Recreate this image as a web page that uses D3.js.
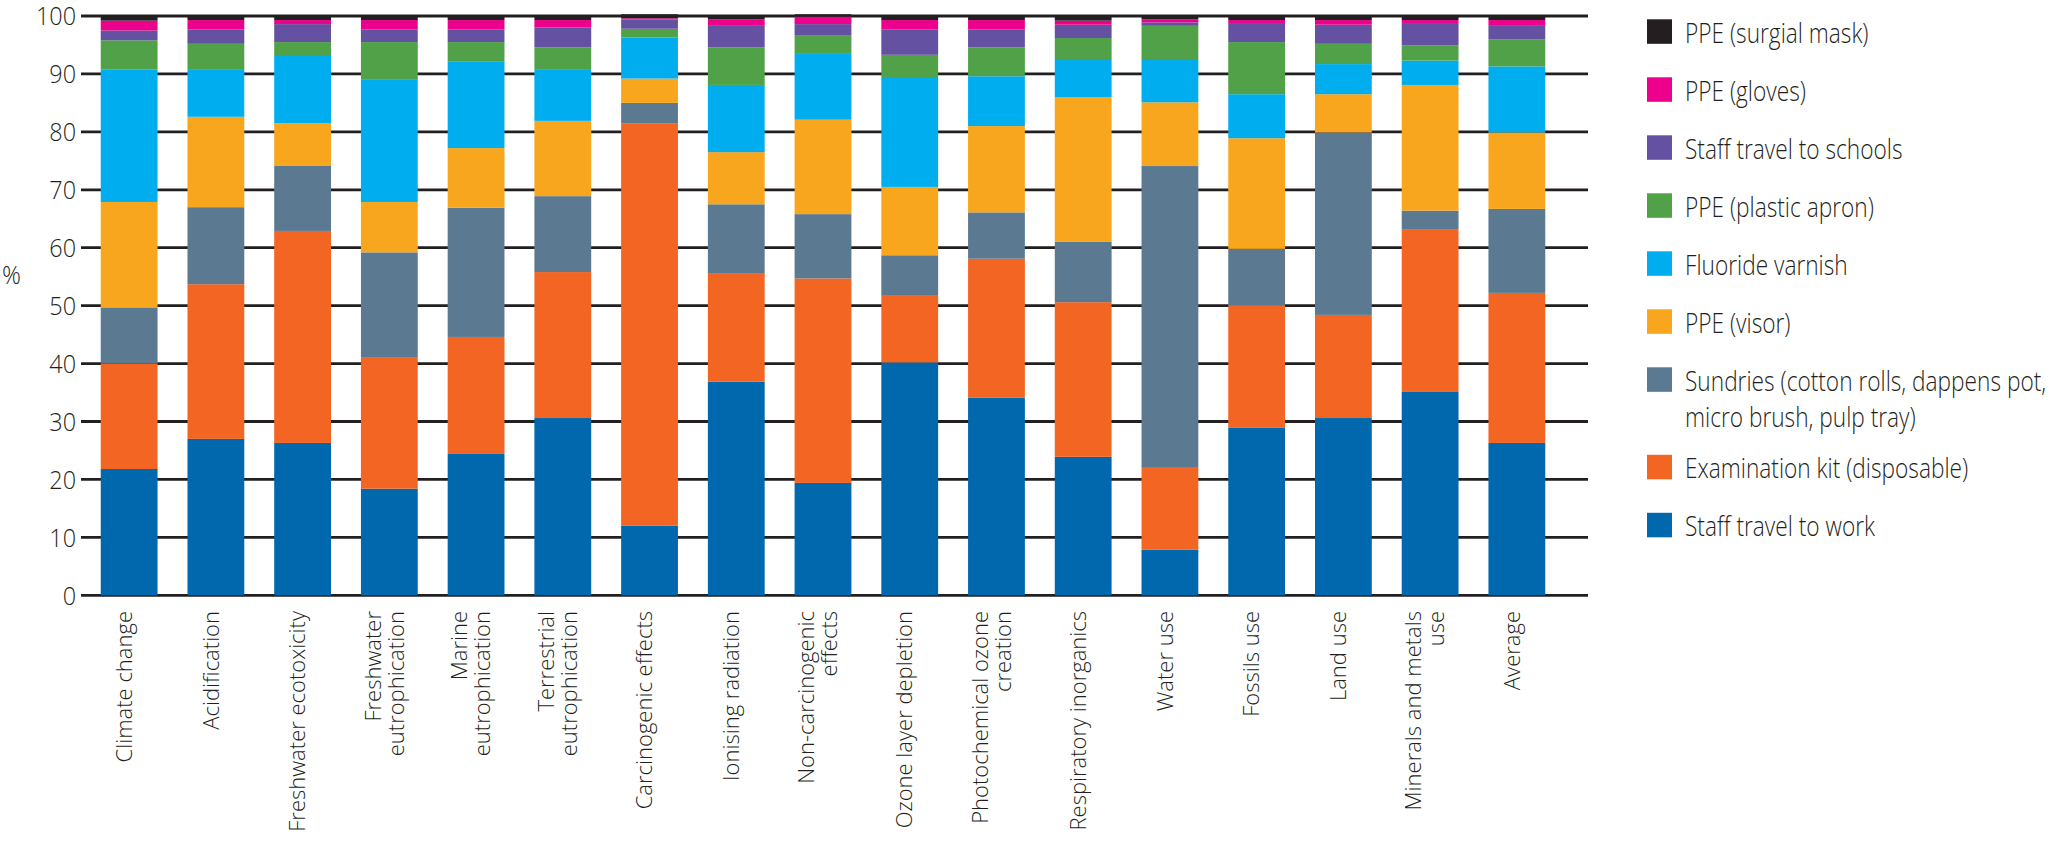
<!DOCTYPE html>
<html>
<head>
<meta charset="utf-8">
<script src="https://cdn.jsdelivr.net/npm/d3@7"></script>
<style>
  body { margin: 0; background: #fff; }
  .tick-label, .legend-label { font-family: "Open Sans", sans-serif; font-weight: 300; fill: #231f20; }
  .cat-label { font-family: "Open Sans", sans-serif; font-weight: 300; fill: #231f20; font-size: 22px; }
</style>
</head>
<body>
<svg id="chart" width="2061" height="848"></svg>
<script>
// categories (line breaks as in the figure)
let categories = [
  "Climate change", "Acidification", "Freshwater ecotoxicity", "Freshwater\neutrophication",
  "Marine\neutrophication", "Terrestrial\neutrophication", "Carcinogenic effects", "Ionising radiation",
  "Non-carcinogenic\neffects", "Ozone layer depletion", "Photochemical ozone\ncreation",
  "Respiratory inorganics", "Water use", "Fossils use", "Land use", "Minerals and metals\nuse", "Average"
];

// series values (%), bottom to top
let staffWork    = [21.8, 27.0, 26.3, 18.4, 24.4, 30.6, 12.0, 36.9, 19.4, 40.2, 34.1, 23.9,  7.9, 28.9, 30.6, 35.1, 26.3];
let examKit      = [18.2, 26.7, 36.6, 22.6, 20.2, 25.2, 69.5, 18.6, 35.3, 11.5, 24.0, 26.7, 14.1, 21.2, 17.8, 28.0, 25.9];
let sundries     = [ 9.7, 13.3, 11.3, 18.2, 22.3, 13.1,  3.5, 12.0, 11.1,  7.0,  8.0, 10.4, 52.1,  9.7, 31.5,  3.3, 14.5];
let visor        = [18.2, 15.6,  7.3,  8.7, 10.3, 13.0,  4.2,  9.0, 16.3, 11.8, 14.9, 25.0, 11.0, 19.1,  6.6, 21.7, 13.2];
let fluoride     = [22.9,  8.1, 11.6, 21.2, 15.0,  8.8,  7.1, 11.6, 11.5, 18.8,  8.6,  6.4,  7.3,  7.6,  5.2,  4.2, 11.4];
let apron        = [ 5.0,  4.5,  2.4,  6.4,  3.3,  3.9,  1.5,  6.5,  3.0,  4.0,  5.0,  3.8,  5.9,  9.0,  3.5,  2.6,  4.7];
let staffSchools = [ 1.7,  2.5,  3.1,  2.2,  2.2,  3.4,  1.6,  3.7,  2.0,  4.4,  3.1,  2.3,  0.6,  3.3,  3.3,  3.9,  2.3];
let gloves       = [ 1.7,  1.6,  0.7,  1.6,  1.6,  1.3,  0.2,  1.1,  1.3,  1.6,  1.6,  0.7,  0.5,  0.5,  0.8,  0.5,  1.0];
let mask         = [ 0.7,  0.7,  0.7,  0.7,  0.7,  0.7,  0.7,  0.6,  0.4,  0.7,  0.7,  0.8,  0.6,  0.7,  0.7,  0.7,  0.7];

let yTicks = [0, 10, 20, 30, 40, 50, 60, 70, 80, 90, 100];

let seriesNames = [
  "Staff travel to work", "Examination kit (disposable)",
  "Sundries (cotton rolls, dappens pot,\nmicro brush, pulp tray)", "PPE (visor)",
  "Fluoride varnish", "PPE (plastic apron)", "Staff travel to schools", "PPE (gloves)", "PPE (surgial mask)"
];
let seriesColors = ["#0168ae", "#f26522", "#5b7a91", "#f8a61d", "#00aeef", "#50a147", "#6451a1", "#ec008c", "#231f20"];
let seriesValues = [staffWork, examKit, sundries, visor, fluoride, apron, staffSchools, gloves, mask];

let svg = d3.select("#chart");

let x = d3.scaleBand()
    .domain(categories)
    .range([86, 1560])
    .paddingInner(0.345)
    .paddingOuter(0.17);

let y = d3.scaleLinear()
    .domain([0, 100])
    .range([595.3, 16]);

// build rows for d3.stack
let rows = categories.map(function (c, i) {
  let r = {cat: c};
  seriesNames.forEach(function (s, k) { r[s] = seriesValues[k][i]; });
  return r;
});
let stacked = d3.stack().keys(seriesNames)(rows);

// grid lines (behind the bars)
svg.append("g")
  .selectAll("line")
  .data(yTicks)
  .join("line")
    .attr("x1", 81)
    .attr("x2", 1588)
    .attr("y1", function (d) { return y(d); })
    .attr("y2", function (d) { return y(d); })
    .attr("stroke", "#231f20")
    .attr("stroke-width", 2.8);

// bars
svg.append("g")
  .selectAll("g")
  .data(stacked)
  .join("g")
    .attr("fill", function (d, k) { return seriesColors[k]; })
  .selectAll("rect")
  .data(function (d) { return d; })
  .join("rect")
    .attr("x", function (d) { return x(d.data.cat); })
    .attr("width", x.bandwidth())
    .attr("y", function (d) { return y(d[1]); })
    .attr("height", function (d) { return y(d[0]) - y(d[1]); });

// y tick labels (narrowed to match the condensed face)
svg.append("g")
  .selectAll("text")
  .data(yTicks)
  .join("text")
    .attr("class", "tick-label")
    .attr("transform", function (d) { return "translate(76," + y(d) + ") scale(0.9,1)"; })
    .attr("dy", "0.36em")
    .attr("text-anchor", "end")
    .style("font-size", "26px")
    .text(function (d) { return d; });

svg.append("text")
  .attr("class", "tick-label")
  .attr("transform", "translate(2,284) scale(0.9,1)")
  .style("font-size", "26px")
  .text("%");

// category labels, rotated
let catLabel = svg.append("g")
  .selectAll("text")
  .data(categories)
  .join("text")
    .attr("class", "cat-label")
    .attr("text-anchor", "end")
    .attr("transform", function (d) {
      return "translate(" + (x(d) + x.bandwidth() / 2 - 5) + ",611) rotate(-90)";
    });

catLabel.selectAll("tspan")
  .data(function (d) {
    let lines = d.split("\n");
    return lines.map(function (t, i) { return {t: t, i: i, n: lines.length}; });
  })
  .join("tspan")
    .attr("x", 0)
    .attr("y", function (d) { return (d.i - (d.n - 1) / 2) * 23; })
    .attr("dy", "0.35em")
    .text(function (d) { return d.t; });

// legend, top entry first
let legendOrder = d3.range(seriesNames.length).reverse();
let ly = 19.3;
legendOrder.forEach(function (k) {
  let lines = seriesNames[k].split("\n");
  let g = svg.append("g").attr("transform", "translate(1647," + ly + ")");
  g.append("rect")
    .attr("width", 25)
    .attr("height", 24.5)
    .attr("fill", seriesColors[k]);
  lines.forEach(function (line, i) {
    g.append("text")
      .attr("class", "legend-label")
      .attr("transform", "translate(38," + (23.5 + i * 36) + ") scale(0.84,1)")
      .style("font-size", "27px")
      .text(line);
  });
  ly += 58 + (lines.length - 1) * 29.5;
});
</script>
</body>
</html>
